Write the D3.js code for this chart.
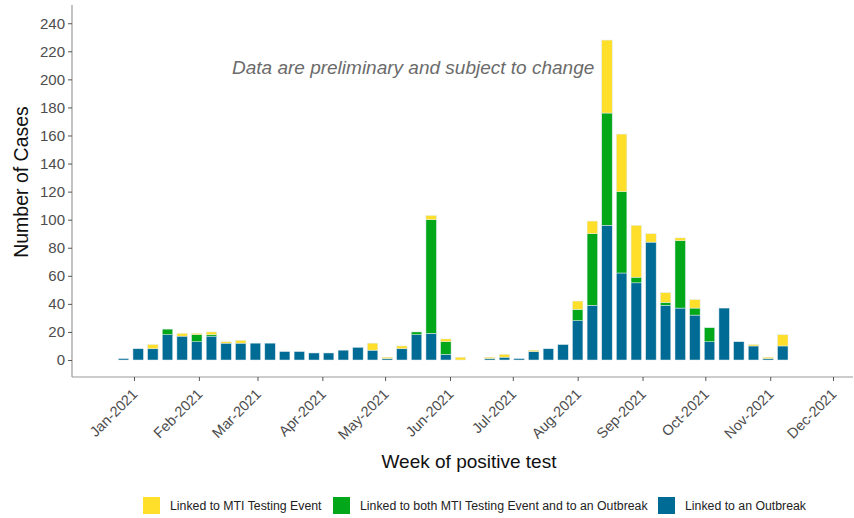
<!DOCTYPE html>
<html>
<head>
<meta charset="utf-8">
<script src="https://cdn.jsdelivr.net/npm/d3@7"></script>
<style>
  body { margin: 0; background: #fff; }
  text { font-family: "Liberation Sans", Arial, sans-serif; }
</style>
</head>
<body>
<div id="chart"></div>
<script>
// weekly data (week start, Sunday)
var weekStart = "2020-12-27";
var nWeeks = 46;
var outbreak = [1, 8, 8, 18, 17, 13, 17, 12, 12, 12, 12, 6, 6, 5, 5, 7, 9, 7, 1, 8, 18, 19, 4, 0, 0, 1, 2, 1, 6, 8, 11, 28, 39, 96, 62, 55, 84, 39, 37, 32, 13, 37, 13, 10, 1, 10];
var both     = [0, 0, 0, 4, 0, 5, 1, 0, 0, 0, 0, 0, 0, 0, 0, 0, 0, 0, 0, 0, 2, 81, 9, 0, 0, 0, 0, 0, 0, 0, 0, 8, 51, 80, 58, 4, 0, 2, 48, 5, 10, 0, 0, 0, 0, 0];
var mti      = [0, 0, 3, 0, 2, 1, 2, 1, 2, 0, 0, 0, 0, 0, 0, 0, 0, 5, 1, 2, 0, 3, 2, 2, 0, 1, 2, 0, 1, 0, 0, 6, 9, 52, 41, 37, 6, 7, 2, 6, 0, 0, 0, 1, 1, 8];
var yTicks = [0, 20, 40, 60, 80, 100, 120, 140, 160, 180, 200, 220, 240];
var monthTicks = ["2021-01-01", "2021-02-01", "2021-03-01", "2021-04-01", "2021-05-01", "2021-06-01",
                  "2021-07-01", "2021-08-01", "2021-09-01", "2021-10-01", "2021-11-01", "2021-12-01"];
var keys = ["outbreak", "both", "mti"];
var legendLabels = ["Linked to MTI Testing Event", "Linked to both MTI Testing Event and to an Outbreak", "Linked to an Outbreak"];

var width = 854, height = 518;
var svg = d3.select("#chart").append("svg")
    .attr("width", width)
    .attr("height", height);

var parse = d3.timeParse("%Y-%m-%d");
var start = parse(weekStart);
var data = d3.range(nWeeks).map(function (i) {
    return {
        week: d3.timeDay.offset(start, i * 7),
        outbreak: outbreak[i],
        both: both[i],
        mti: mti[i]
    };
});

// scales
var x = d3.scaleTime()
    .domain([parse("2021-01-01"), parse("2021-12-01")])
    .range([134, 833]);
var y = d3.scaleLinear()
    .domain([-12.12, 253])
    .range([377, 5]);

var color = d3.scaleOrdinal()
    .domain(keys)
    .range(["#006c96", "#02a81a", "#ffdf2a"]);

var barW = x(d3.timeDay.offset(start, 5)) - x(start);

var stacked = d3.stack().keys(keys)(data);

svg.append("g")
    .selectAll("g")
    .data(stacked)
    .enter().append("g")
    .attr("fill", function (d) { return color(d.key); })
    .selectAll("rect")
    .data(function (d) { return d.filter(function (e) { return e[1] > e[0]; }); })
    .enter().append("rect")
    .attr("x", function (d) { return x(d.data.week) - barW / 2; })
    .attr("y", function (d) { return y(d[1]); })
    .attr("width", barW)
    .attr("height", function (d) { return y(d[0]) - y(d[1]); })
    .attr("stroke", "#dfe9ee")
    .attr("stroke-width", 0.5);

// axis lines
svg.append("line")
    .attr("x1", 72).attr("x2", 72)
    .attr("y1", 5).attr("y2", 377)
    .attr("stroke", "#9a9a9a").attr("stroke-width", 1.2);
svg.append("line")
    .attr("x1", 72).attr("x2", 853)
    .attr("y1", 377).attr("y2", 377)
    .attr("stroke", "#9a9a9a").attr("stroke-width", 1.2);

// Y axis
var yAxis = svg.append("g")
    .attr("transform", "translate(72,0)")
    .call(d3.axisLeft(y).tickValues(yTicks).tickSize(4).tickPadding(3));
yAxis.select(".domain").remove();
yAxis.selectAll("line").attr("stroke", "#555");
yAxis.selectAll("text")
    .attr("fill", "#4d4d4d")
    .style("font-size", "15px")
    .style("font-family", "Liberation Sans, Arial, sans-serif");

// X axis
var xAxis = svg.append("g")
    .attr("transform", "translate(0,377)")
    .call(d3.axisBottom(x)
        .tickValues(monthTicks.map(parse))
        .tickFormat(d3.timeFormat("%b-%Y"))
        .tickSize(4));
xAxis.select(".domain").remove();
xAxis.selectAll("line").attr("stroke", "#555");
xAxis.selectAll("text")
    .attr("fill", "#4d4d4d")
    .style("font-size", "14.5px")
    .style("font-family", "Liberation Sans, Arial, sans-serif")
    .attr("text-anchor", "end")
    .attr("dy", null)
    .attr("y", 0)
    .attr("transform", "translate(4,18) rotate(-45)");

// axis titles
svg.append("text")
    .attr("text-anchor", "middle")
    .attr("transform", "translate(28,182) rotate(-90)")
    .style("font-size", "19.5px")
    .attr("fill", "#111")
    .text("Number of Cases");

svg.append("text")
    .attr("text-anchor", "middle")
    .attr("x", 469)
    .attr("y", 468)
    .style("font-size", "19px")
    .attr("fill", "#111")
    .text("Week of positive test");

// annotation
svg.append("text")
    .attr("x", 232)
    .attr("y", 74)
    .style("font-size", "19px")
    .style("font-style", "italic")
    .attr("fill", "#6b6b6b")
    .text("Data are preliminary and subject to change");

// legend
var legendKeys = ["mti", "both", "outbreak"];
var legendX = [143, 333, 658];
var lg = svg.append("g");
lg.selectAll("rect")
    .data(legendKeys)
    .enter().append("rect")
    .attr("x", function (d, i) { return legendX[i]; })
    .attr("y", 497)
    .attr("width", 17)
    .attr("height", 17)
    .attr("fill", function (d) { return color(d); });
lg.selectAll("text")
    .data(legendLabels)
    .enter().append("text")
    .attr("x", function (d, i) { return legendX[i] + 27; })
    .attr("y", 510)
    .style("font-size", "12.3px")
    .attr("fill", "#222")
    .text(function (d) { return d; });
</script>
</body>
</html>
